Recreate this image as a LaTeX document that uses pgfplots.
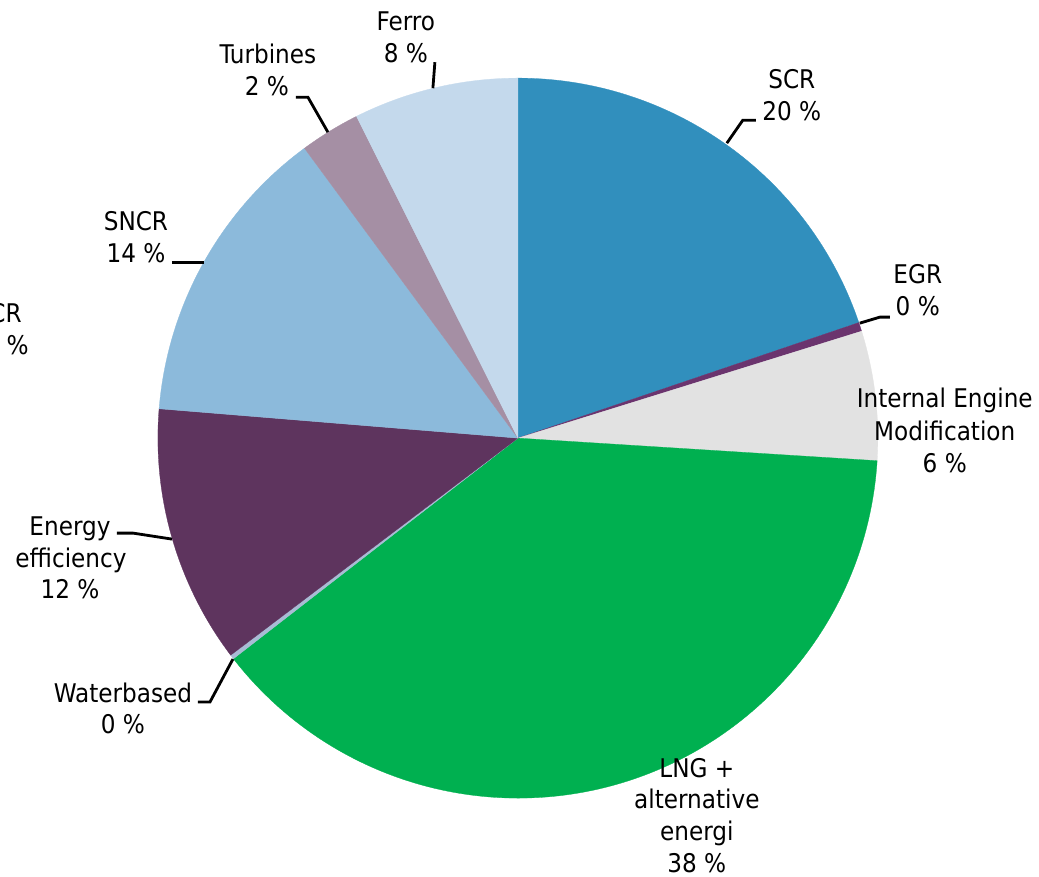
\documentclass[border=0pt]{standalone}
\usepackage{pgfplots}
\pgfplotsset{compat=1.18}
\usepackage{pgfplotstable}
\usepackage{fontspec}
\setmainfont{DejaVu Sans Condensed}
\definecolor{cSCR}{RGB}{49,143,189}
\definecolor{cEGR}{RGB}{107,52,110}
\definecolor{cIEM}{RGB}{226,226,226}
\definecolor{cLNG}{RGB}{0,176,80}
\definecolor{cWater}{RGB}{169,188,213}
\definecolor{cEE}{RGB}{94,52,94}
\definecolor{cSNCR}{RGB}{140,186,219}
\definecolor{cTurb}{RGB}{165,143,164}
\definecolor{cFerro}{RGB}{196,217,236}

\pgfplotstableread{
name value col
SCR 19.8 cSCR
EGR 0.4 cEGR
IEM 5.8 cIEM
LNG 38.5 cLNG
Water 0.2 cWater
EE 11.6 cEE
SNCR 13.6 cSNCR
Turbines 2.7 cTurb
Ferro 7.4 cFerro
}\piedata

\begin{document}
\begin{tikzpicture}[font=\fontsize{18.3}{22}\selectfont]
\begin{axis}[
  x=0.025cm, y=0.025cm,
  xmin=0, xmax=1039, ymin=0, ymax=876,
  y dir=reverse,
  hide axis, clip=false,
  anchor=south west, at={(0,0)},
]
\def\cum{90}
\pgfplotstablegetrowsof{\piedata}
\pgfmathtruncatemacro\N{\pgfplotsretval-1}
\pgfplotsforeachungrouped \i in {0,...,\N}{%
  \pgfplotstablegetelem{\i}{value}\of\piedata \let\curval\pgfplotsretval
  \pgfplotstablegetelem{\i}{col}\of\piedata \let\curcol\pgfplotsretval
  \pgfmathsetmacro\endang{\cum-3.6*\curval}%
  \edef\cmd{\noexpand\fill[\curcol, draw=\curcol, line width=0.2pt] (axis cs:518,438) -- ++(\cum:9cm) arc[start angle=\cum, end angle=\endang, radius=9cm] -- cycle;}%
  \cmd
  \let\cum\endang
}
% leader lines
\draw[line width=2pt] (axis cs:435,62) -- (axis cs:433,88);
\draw[line width=2pt] (axis cs:296,97) -- (axis cs:308,97) -- (axis cs:328,132);
\draw[line width=2pt] (axis cs:756,120) -- (axis cs:743,120) -- (axis cs:727,143);
\draw[line width=2pt] (axis cs:890,317) -- (axis cs:880,317) -- (axis cs:860,323);
\draw[line width=2pt] (axis cs:172,262) -- (axis cs:204,262);
\draw[line width=2pt] (axis cs:117,533) -- (axis cs:133,533) -- (axis cs:172,539);
\draw[line width=2pt] (axis cs:198,702) -- (axis cs:210,702) -- (axis cs:233,659);
% labels
\node[anchor=base] at (axis cs:406,30) {Ferro};
\node[anchor=base] at (axis cs:406,62) {8 \%};
\node[anchor=base] at (axis cs:268,63) {Turbines};
\node[anchor=base] at (axis cs:267,95) {2 \%};
\node[anchor=base] at (axis cs:792,88) {SCR};
\node[anchor=base] at (axis cs:792,120) {20 \%};
\node[anchor=base] at (axis cs:918,283) {EGR};
\node[anchor=base] at (axis cs:918,315) {0 \%};
\node[anchor=base] at (axis cs:945,407) {Internal Engine};
\node[anchor=base] at (axis cs:945,440) {Modification};
\node[anchor=base] at (axis cs:945,472) {6 \%};
\node[anchor=base] at (axis cs:697,777) {LNG +};
\node[anchor=base] at (axis cs:697,808) {alternative};
\node[anchor=base] at (axis cs:697,840) {energi};
\node[anchor=base] at (axis cs:697,872) {38 \%};
\node[anchor=base] at (axis cs:123,702) {Waterbased};
\node[anchor=base] at (axis cs:123,733) {0 \%};
\node[anchor=base] at (axis cs:70,535) {Energy};
\node[anchor=base] at (axis cs:71,567) {efficiency};
\node[anchor=base] at (axis cs:70,598) {12 \%};
\node[anchor=base] at (axis cs:136,230) {SNCR};
\node[anchor=base] at (axis cs:136,262) {14 \%};
\node[anchor=base east, inner xsep=0pt] at (axis cs:22,322) {SCR};
\node[anchor=base east, inner xsep=0pt] at (axis cs:29,354) {10 \%};
\end{axis}
\pgfresetboundingbox
\path[use as bounding box] (0,0) rectangle (25.975cm,21.9cm);
\end{tikzpicture}
\end{document}
